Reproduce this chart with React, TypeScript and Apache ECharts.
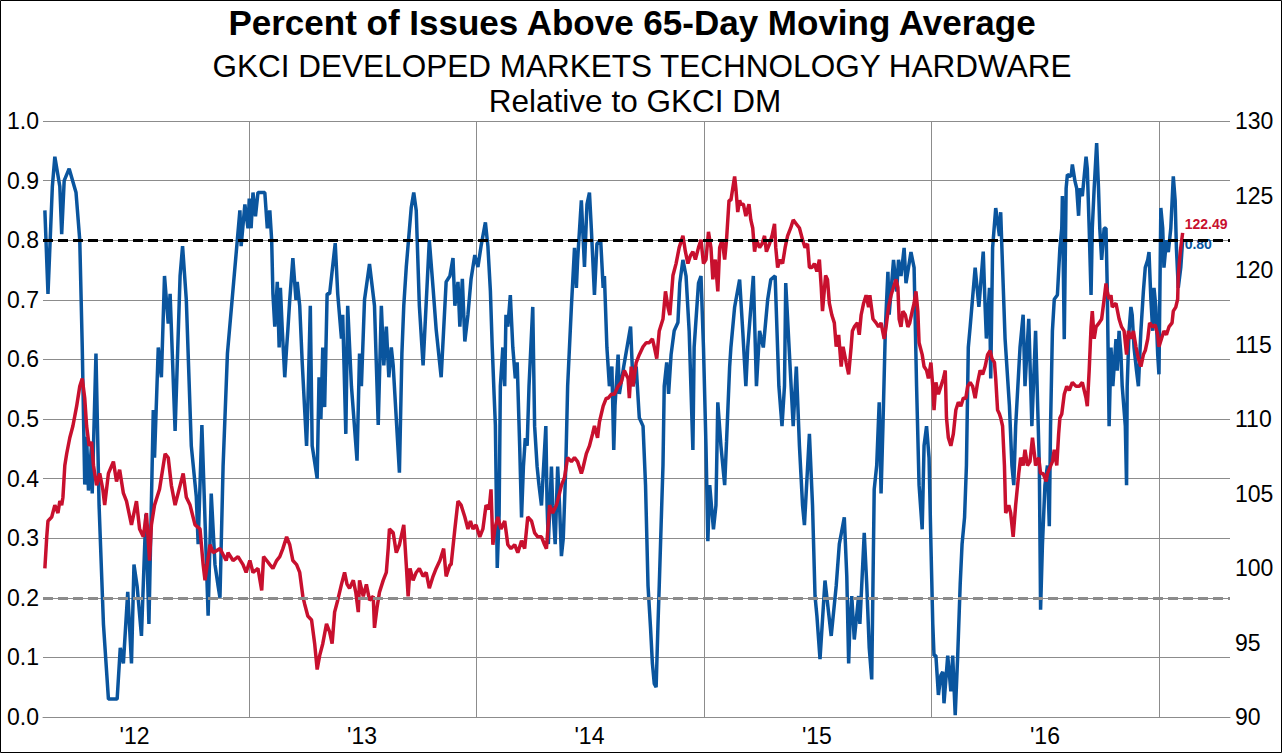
import React, { useEffect, useRef } from 'react';
import * as echarts from 'echarts';

const FONT = '"Liberation Sans", Arial, sans-serif';
const BLUE = '#0A559E';
const RED = '#C8102E';
const GRID_GRAY = '#8c8c8c';

// Daily categories: first category 2012-02-05, data begins 3 days later (2012-02-08)
const CAT_START = Date.UTC(2012, 1, 5);
const CAT_COUNT = 1906;
const DATA_OFFSET = 3;
const CATEGORIES: string[] = Array.from({ length: CAT_COUNT }, (_, i) =>
  new Date(CAT_START + i * 86400000).toISOString().slice(0, 10)
);

const TITLE = 'Percent of Issues Above 65-Day Moving Average';
const SUBTITLE_1 = 'GKCI DEVELOPED MARKETS TECHNOLOGY HARDWARE';
const SUBTITLE_2 = 'Relative to GKCI DM';

const LEFT_AXIS = { min: 0, max: 1, interval: 0.1 };
const RIGHT_AXIS = { min: 90, max: 130, interval: 5 };
const UPPER_LEVEL = 0.8;
const LOWER_LEVEL = 0.2;

// [day since data start, share of issues above 65-day MA]
const BLUE_PCT: [number, number][] = [
  [0,0.85],[5,0.71],[12,0.89],[16,0.94],[24,0.89],[27,0.81],[31,0.90],[39,0.92],[50,0.88],[56,0.80],[60,0.62],[64,0.39],[67,0.47],[70,0.38],[75,0.46],[76,0.375],[82,0.61],[87,0.355],[94,0.156],[102,0.03],[116,0.03],[121,0.116],[126,0.09],[133,0.21],[139,0.09],[143,0.256],[148,0.22],[155,0.136],[162,0.34],[167,0.156],[174,0.515],[176,0.435],[182,0.62],[187,0.57],[192,0.74],[198,0.66],[201,0.71],[209,0.48],[217,0.74],[221,0.79],[227,0.70],[235,0.455],[243,0.37],[246,0.29],[252,0.49],[262,0.17],[267,0.375],[273,0.256],[278,0.22],[281,0.20],[286,0.42],[293,0.61],[303,0.73],[313,0.85],[315,0.79],[321,0.86],[326,0.82],
  [328,0.87],[331,0.82],[334,0.88],[338,0.84],[342,0.88],[353,0.88],[357,0.82],[361,0.85],[364,0.80],[366,0.71],[369,0.655],[373,0.73],[376,0.62],[378,0.72],[381,0.65],[385,0.57],[388,0.62],[390,0.65],[393,0.70],[398,0.77],[403,0.70],[405,0.73],[409,0.69],[413,0.595],[417,0.515],[420,0.455],[422,0.52],[426,0.69],[429,0.455],[437,0.40],[440,0.57],[443,0.50],[446,0.62],[449,0.52],[453,0.71],[457,0.71],[466,0.795],[470,0.71],[476,0.635],[478,0.675],[483,0.475],[486,0.69],[492,0.555],[501,0.43],[505,0.61],[508,0.555],[513,0.70],[521,0.76],[529,0.69],[535,0.49],[540,0.69],[544,0.59],[548,0.655],[552,0.57],[556,0.62],[559,0.59],[569,0.41],[573,0.61],[576,0.69],[580,0.755],[588,0.855],[592,0.88],[596,0.85],[601,0.69],[607,0.59],[617,0.80],[623,0.72],[628,0.65],[636,0.57],[644,0.73],[650,0.74],
  [655,0.77],[658,0.69],[663,0.73],[666,0.655],[670,0.735],[674,0.63],[679,0.675],[684,0.735],[690,0.775],[695,0.755],[700,0.79],[707,0.83],[711,0.79],[715,0.715],[718,0.62],[721,0.54],[723,0.49],[726,0.25],[729,0.34],[731,0.555],[735,0.62],[738,0.555],[740,0.675],[743,0.655],[747,0.708],[751,0.62],[755,0.568],[758,0.595],[762,0.455],[765,0.335],[768,0.42],[771,0.468],[774,0.455],[777,0.555],[783,0.688],[786,0.488],[790,0.42],[793,0.389],[797,0.355],[804,0.488],[806,0.355],[808,0.29],[813,0.42],[815,0.355],[819,0.29],[823,0.42],[826,0.355],[829,0.27],[832,0.30],[836,0.42],[839,0.555],[845,0.688],[850,0.787],[853,0.72],[855,0.767],[861,0.867],[866,0.755],[870,0.86],[874,0.88],[877,0.82],[882,0.708],[886,0.794],[892,0.80],[896,0.72],[898,0.74],[902,0.62],[906,0.555],[910,0.588],[913,0.448],[915,0.522],[920,0.608],[922,0.542],[929,0.588],[940,0.655],[944,0.555],[949,0.588],[954,0.502],[960,0.488],[964,0.389],[968,0.22],
  [972,0.15],[975,0.09],[978,0.056],[981,0.05],[984,0.156],[986,0.22],[989,0.322],[992,0.422],[994,0.555],[998,0.595],[1001,0.542],[1005,0.608],[1010,0.648],[1016,0.662],[1019,0.728],[1024,0.767],[1029,0.74],[1034,0.648],[1040,0.448],[1042,0.62],[1049,0.728],[1053,0.74],[1057,0.62],[1061,0.455],[1064,0.295],[1067,0.389],[1073,0.315],[1077,0.355],[1080,0.528],[1085,0.455],[1091,0.389],[1094,0.462],[1099,0.588],[1101,0.62],[1107,0.688],[1115,0.734],[1120,0.648],[1125,0.555],[1128,0.62],[1137,0.74],[1142,0.555],[1147,0.648],[1153,0.62],[1160,0.70],[1165,0.734],[1172,0.74],[1178,0.555],[1183,0.488],[1187,0.555],[1189,0.728],[1201,0.488],[1206,0.588],[1211,0.455],[1216,0.355],[1219,0.322],[1227,0.475],[1232,0.355],[1236,0.203],[1239,0.17],[1244,0.097],[1252,0.229],[1262,0.136],[1270,0.22],[1275,0.29],[1283,0.335],[1287,0.236],[1290,0.09],
  [1292,0.156],[1295,0.203],[1299,0.13],[1306,0.203],[1308,0.156],[1315,0.309],[1319,0.223],[1323,0.116],[1327,0.063],[1329,0.223],[1331,0.382],[1335,0.422],[1339,0.528],[1342,0.375],[1345,0.488],[1349,0.655],[1353,0.747],[1355,0.675],[1362,0.767],[1367,0.714],[1370,0.767],[1374,0.74],[1379,0.787],[1382,0.728],[1390,0.78],[1395,0.754],[1399,0.555],[1403,0.389],[1408,0.315],[1411,0.455],[1415,0.488],[1419,0.435],[1422,0.29],[1425,0.156],[1427,0.103],[1430,0.103],[1434,0.037],[1438,0.07],[1441,0.076],[1443,0.023],[1449,0.103],[1454,0.043],[1457,0.103],[1461,0.003],[1465,0.103],[1469,0.223],[1472,0.29],[1476,0.335],[1479,0.422],[1482,0.62],[1485,0.655],[1493,0.754],[1499,0.688],[1506,0.781],[1509,0.688],[1511,0.635],[1516,0.72],[1518,0.568],[1521,0.787],[1526,0.854],[1532,0.807],[1534,0.847],[1537,0.754],[1541,0.635],[1548,0.522],[1552,0.422],[1555,0.389],[1558,0.488],[1565,0.62],[1570,0.675],[1573,0.555],[1579,0.668],[1584,0.488],[1590,0.648],[1596,0.422],[1598,0.18],[1601,0.29],[1605,0.389],[1609,0.422],
  [1612,0.32],[1614,0.488],[1617,0.648],[1620,0.701],[1625,0.708],[1629,0.787],[1632,0.82],[1633,0.874],[1636,0.634],[1639,0.887],[1641,0.91],[1647,0.907],[1649,0.927],[1653,0.90],[1656,0.887],[1659,0.841],[1661,0.887],[1665,0.874],[1671,0.94],[1673,0.92],[1676,0.82],[1679,0.708],[1681,0.82],[1684,0.887],[1688,0.963],[1691,0.887],[1693,0.82],[1696,0.767],[1700,0.82],[1703,0.82],[1705,0.72],[1708,0.488],[1711,0.62],[1714,0.555],[1719,0.634],[1721,0.581],[1724,0.648],[1727,0.608],[1729,0.555],[1734,0.488],[1736,0.389],[1737,0.555],[1740,0.648],[1743,0.688],[1745,0.675],[1748,0.62],[1752,0.581],[1755,0.555],[1759,0.648],[1763,0.714],[1766,0.754],[1770,0.767],[1772,0.78],[1775,0.701],[1778,0.648],[1780,0.72],[1783,0.688],[1786,0.608],[1788,0.575],[1791,0.854],[1794,0.82],[1796,0.754],[1800,0.80],[1803,0.78],[1807,0.82],[1811,0.907],[1814,0.867],[1816,0.787],[1819,0.72],[1823,0.754],[1826,0.80]
];

// [day since data start, relative strength index (right axis)]
const RED_REL: [number, number][] = [
  [0,99.97],[3,102.09],[5,103.16],[11,103.42],[16,104.22],[21,103.69],[24,104.49],[27,104.22],[29,104.75],[32,106.88],[35,107.67],[40,108.74],[45,109.53],[51,110.86],[56,112.19],[60,112.72],[64,111.39],[67,109.53],[71,108.2],[75,108.47],[78,106.88],[83,105.55],[88,106.35],[93,105.28],[96,104.22],[102,106.35],[110,107.14],[115,105.81],[120,106.6],[126,105.02],[131,104.49],[139,102.89],[147,104.49],[152,102.62],[158,102.09],[163,103.69],[168,100.5],[171,102.89],[176,104.22],[184,105.28],[193,107.67],[198,107.4],[203,105.55],[209,104.22],[222,106.35],[227,104.75],[233,104.22],[241,102.89],[249,102.62],[254,100.23],[257,99.17],[265,101.56],[270,101.03],[281,101.3],[291,100.5],[294,101.03],[302,100.5],[310,100.76],[318,100.23],[323,99.7],[329,100.5],
  [334,99.7],[342,99.97],[348,98.5],[351,100.76],[356,100.5],[361,100.23],[366,99.97],[372,100.5],[377,100.76],[382,101.3],[388,102.09],[393,101.56],[398,100.5],[404,100.23],[409,99.7],[414,98.1],[417,97.57],[422,96.78],[428,96.51],[433,94.92],[437,93.19],[441,94.12],[446,94.92],[452,96.25],[457,95.71],[461,94.92],[465,97.04],[470,97.84],[476,98.9],[481,99.7],[485,98.9],[489,98.64],[495,99.17],[499,98.37],[503,97.04],[505,99.17],[511,98.1],[516,98.9],[521,97.84],[527,98.1],[529,95.98],[533,97.31],[537,98.37],[543,99.17],[548,99.7],[551,101.3],[553,102.62],[559,102.36],[564,101.03],[569,101.56],[576,102.89],[580,100.23],[583,98.1],[586,99.97],[591,99.17],[596,99.7],[601,99.97],[607,99.44],[612,99.7],[617,98.64],[623,99.44],[628,99.97],[634,100.5],[640,101.3],[644,99.44],[650,100.2],
  [652,100.23],[658,102.62],[663,104.49],[668,104.22],[674,103.42],[679,102.62],[683,103.16],[687,102.62],[692,102.89],[698,102.09],[703,102.62],[708,104.22],[713,103.95],[716,105.28],[719,101.56],[722,102.62],[727,103.42],[732,102.62],[738,103.16],[743,101.56],[748,101.3],[754,101.56],[759,101.03],[765,101.83],[770,101.3],[775,103.42],[781,103.16],[786,102.36],[791,102.09],[797,102.09],[802,101.56],[805,101.3],[810,104.22],[815,103.69],[821,104.22],[826,105.02],[829,105.55],[834,106.08],[839,107.41],[845,107.14],[850,107.41],[855,107.14],[861,106.35],[863,106.61],[869,107.67],[874,108.2],[879,109],[882,109.53],[887,108.74],[890,109.8],[896,110.86],[901,111.4],[904,111.4],[909,111.66],[914,111.66],[920,112.19],[925,112.46],[930,113.26],[936,112.72],[938,111.4],[941,113.52],[944,112.19],[949,113.79],[954,114.32],[960,114.85],[965,115.12],[970,115.12],
  [975,115.38],[978,114.85],[982,114.05],[986,115.91],[992,116.71],[996,118.57],[1000,117.51],[1003,116.98],[1008,119.63],[1013,120.43],[1018,121.5],[1024,122.29],[1028,121.23],[1032,120.43],[1036,120.96],[1040,121.23],[1044,120.7],[1049,121.5],[1053,122.03],[1057,120.43],[1061,120.7],[1065,122.56],[1069,121.5],[1072,119.37],[1076,120.7],[1080,118.57],[1083,121.5],[1087,122.03],[1091,120.7],[1094,122.03],[1098,124.68],[1101,124.68],[1104,125.48],[1107,126.28],[1109,125.48],[1112,123.89],[1115,124.68],[1117,124.42],[1121,124.42],[1125,123.62],[1130,124.42],[1133,123.36],[1136,122.82],[1139,121.23],[1142,122.03],[1147,121.5],[1151,121.76],[1155,122.29],[1158,121.23],[1163,121.76],[1167,122.29],[1171,123.09],[1173,121.5],[1176,120.17],[1180,120.7],[1184,120.43],[1188,121.5],[1192,122.29],[1197,122.82],[1201,123.36],[1206,123.09],[1211,122.82],[1216,122.03],[1220,121.5],[1224,121.76],[1227,120.17],[1231,120.17],[1235,120.43],[1239,119.9],[1243,120.7],[1246,118.84],[1248,117.24],[1253,119.63],[1256,119.37],[1259,117.77],[1263,116.98],[1267,116.45],[1270,114.85],[1274,115.65],[1278,113.52],[1281,114.85],[1286,113.79],[1290,112.99],
  [1294,114.85],[1296,115.91],[1299,116.18],[1304,116.45],[1307,115.65],[1310,116.98],[1314,117.77],[1318,118.31],[1322,117.51],[1324,118.31],[1329,116.71],[1334,116.45],[1338,116.18],[1342,116.45],[1347,115.38],[1350,116.18],[1354,117.51],[1358,118.31],[1362,118.84],[1366,119.37],[1369,118.84],[1371,116.71],[1374,116.18],[1377,117.24],[1381,116.98],[1385,116.18],[1388,116.45],[1392,117.24],[1395,117.77],[1398,118.57],[1401,117.24],[1403,115.12],[1408,114.32],[1411,113.52],[1415,113.26],[1418,112.72],[1422,113.79],[1425,112.19],[1427,110.6],[1430,112.46],[1434,111.66],[1438,112.19],[1442,112.72],[1445,113.26],[1447,110.07],[1450,108.74],[1454,108.2],[1458,109],[1462,110.6],[1466,111.13],[1470,110.86],[1474,111.4],[1478,111.4],[1481,112.19],[1485,112.46],[1489,112.19],[1493,111.4],[1497,112.46],[1501,113.26],[1505,112.99],[1509,113.52],[1513,114.32],[1517,114.59],[1520,114.05],[1524,113.79],[1526,112.72],[1529,110.6],[1532,110.33],[1534,110.07],[1537,109.53],[1540,106.88],[1542,103.69],[1547,104.22],[1550,103.69],[1554,102.09],[1558,104.22],[1563,106.35],[1566,107.41],[1570,106.88],[1573,107.94],[1577,106.88],[1581,107.14],[1585,108.74],[1588,107.67],[1590,106.88],[1595,107.41],[1598,106.35],[1602,106.35],[1607,105.81],[1609,106.35],
  [1617,107.14],[1620,107.94],[1624,106.88],[1627,109],[1629,110.07],[1632,110.33],[1636,111.66],[1640,112.19],[1644,111.93],[1649,112.46],[1655,112.19],[1660,112.19],[1665,112.46],[1668,111.93],[1671,111.4],[1673,110.86],[1676,113.26],[1679,116.18],[1681,117.24],[1684,115.38],[1687,116.18],[1692,116.45],[1696,116.71],[1700,118.04],[1703,119.1],[1705,118.57],[1708,118.04],[1711,118.31],[1713,117.51],[1719,117.77],[1724,116.71],[1728,116.18],[1732,115.91],[1736,114.32],[1739,115.91],[1743,115.38],[1747,115.91],[1751,114.85],[1755,114.05],[1759,113.52],[1763,114.32],[1766,114.59],[1770,115.38],[1773,116.45],[1778,116.18],[1782,116.31],[1786,115.65],[1788,114.85],[1792,115.38],[1796,115.91],[1800,115.65],[1804,116.18],[1809,116.45],[1811,117.24],[1815,117.51],[1818,118.04],[1819,119.63],[1821,120.7],[1823,121.5],[1826,122.49]
];

function toSeriesData(rows: [number, number][]) {
  return rows.map(([d, v]) => [CATEGORIES[d + DATA_OFFSET], v]);
}

export default function App() {
  const ref = useRef<HTMLDivElement>(null);

  useEffect(() => {
    if (!ref.current) return;
    const chart = echarts.init(ref.current, undefined, { renderer: 'svg' });
    const axisText = { fontSize: 23, color: '#000', fontFamily: FONT };
    const option = {
      animation: false,
      backgroundColor: '#ffffff',
      textStyle: { fontFamily: FONT },
      grid: { left: 43, right: 53, top: 121, bottom: 36, containLabel: false },
      xAxis: {
        type: 'category',
        data: CATEGORIES,
        boundaryGap: false,
        axisLine: { show: true, lineStyle: { color: GRID_GRAY, width: 1 } },
        axisTick: { show: false },
        axisLabel: {
          ...axisText,
          margin: 7,
          interval: (_i: number, v: string) => v.endsWith('-07-01'),
          formatter: (v: string) => "'" + v.slice(2, 4),
        },
        splitLine: {
          show: true,
          interval: (_i: number, v: string) => v.endsWith('-01-01'),
          lineStyle: { color: GRID_GRAY, width: 1 },
        },
      },
      yAxis: [
        {
          type: 'value',
          position: 'left',
          min: LEFT_AXIS.min,
          max: LEFT_AXIS.max,
          interval: LEFT_AXIS.interval,
          axisLine: { show: false },
          axisTick: { show: false },
          axisLabel: { ...axisText, margin: 4, formatter: (v: number) => v.toFixed(1) },
          splitLine: { show: true, lineStyle: { color: GRID_GRAY, width: 1 } },
        },
        {
          type: 'value',
          position: 'right',
          min: RIGHT_AXIS.min,
          max: RIGHT_AXIS.max,
          interval: RIGHT_AXIS.interval,
          axisLine: { show: false },
          axisTick: { show: false },
          axisLabel: { ...axisText, margin: 5, formatter: (v: number) => String(v) },
          splitLine: { show: false },
        },
      ],
      graphic: [
        {
          type: 'rect',
          silent: true,
          z: -10,
          shape: { x: 0.5, y: 0.5, width: 1281, height: 752 },
          style: { fill: 'none', stroke: '#000', lineWidth: 1 },
        },
        {
          type: 'text', x: 632, y: 22, silent: true,
          style: { text: TITLE, align: 'center', verticalAlign: 'middle', fontSize: 35, fontWeight: 'bold', fontFamily: FONT, fill: '#000' },
        },
        {
          type: 'text', x: 642, y: 66, silent: true,
          style: { text: SUBTITLE_1, align: 'center', verticalAlign: 'middle', fontSize: 31.5, fontFamily: FONT, fill: '#000' },
        },
        {
          type: 'text', x: 635, y: 101, silent: true,
          style: { text: SUBTITLE_2, align: 'center', verticalAlign: 'middle', fontSize: 31.5, fontFamily: FONT, fill: '#000' },
        },
      ],
      series: [
        {
          name: 'Percent Above 65-Day MA',
          type: 'line',
          yAxisIndex: 0,
          data: toSeriesData(BLUE_PCT),
          showSymbol: false,
          symbol: 'none',
          lineStyle: { color: BLUE, width: 3.5 },
          itemStyle: { color: BLUE },
          z: 2,
          endLabel: {
            show: true,
            formatter: (p: any) => Number(p.value[1]).toFixed(2),
            color: BLUE,
            fontWeight: 'bold',
            fontSize: 14,
            fontFamily: FONT,
            distance: 2,
            offset: [0, 4],
          },
        },
        {
          name: 'Relative to GKCI DM',
          type: 'line',
          yAxisIndex: 1,
          data: toSeriesData(RED_REL),
          showSymbol: false,
          symbol: 'none',
          lineStyle: { color: RED, width: 3.5 },
          itemStyle: { color: RED },
          z: 3,
          endLabel: {
            show: true,
            formatter: (p: any) => Number(p.value[1]).toFixed(2),
            color: RED,
            fontWeight: 'bold',
            fontSize: 14,
            fontFamily: FONT,
            distance: 2,
            offset: [0, -9],
          },
        },
        {
          name: 'levels',
          type: 'line',
          yAxisIndex: 0,
          data: [],
          z: 4,
          markLine: {
            silent: true,
            symbol: ['none', 'none'],
            label: { show: false },
            data: [
              { yAxis: UPPER_LEVEL, lineStyle: { color: '#000', width: 3, type: [10, 5] } },
              { yAxis: LOWER_LEVEL, lineStyle: { color: GRID_GRAY, width: 3, type: [10, 5] } },
            ],
          },
        },
      ],
    };
    chart.setOption(option as any);
    return () => chart.dispose();
  }, []);

  return (
    <div
      ref={ref}
      style={{ position: 'fixed', left: 0, top: 0, width: 1283, height: 753, background: '#fff' }}
    />
  );
}
